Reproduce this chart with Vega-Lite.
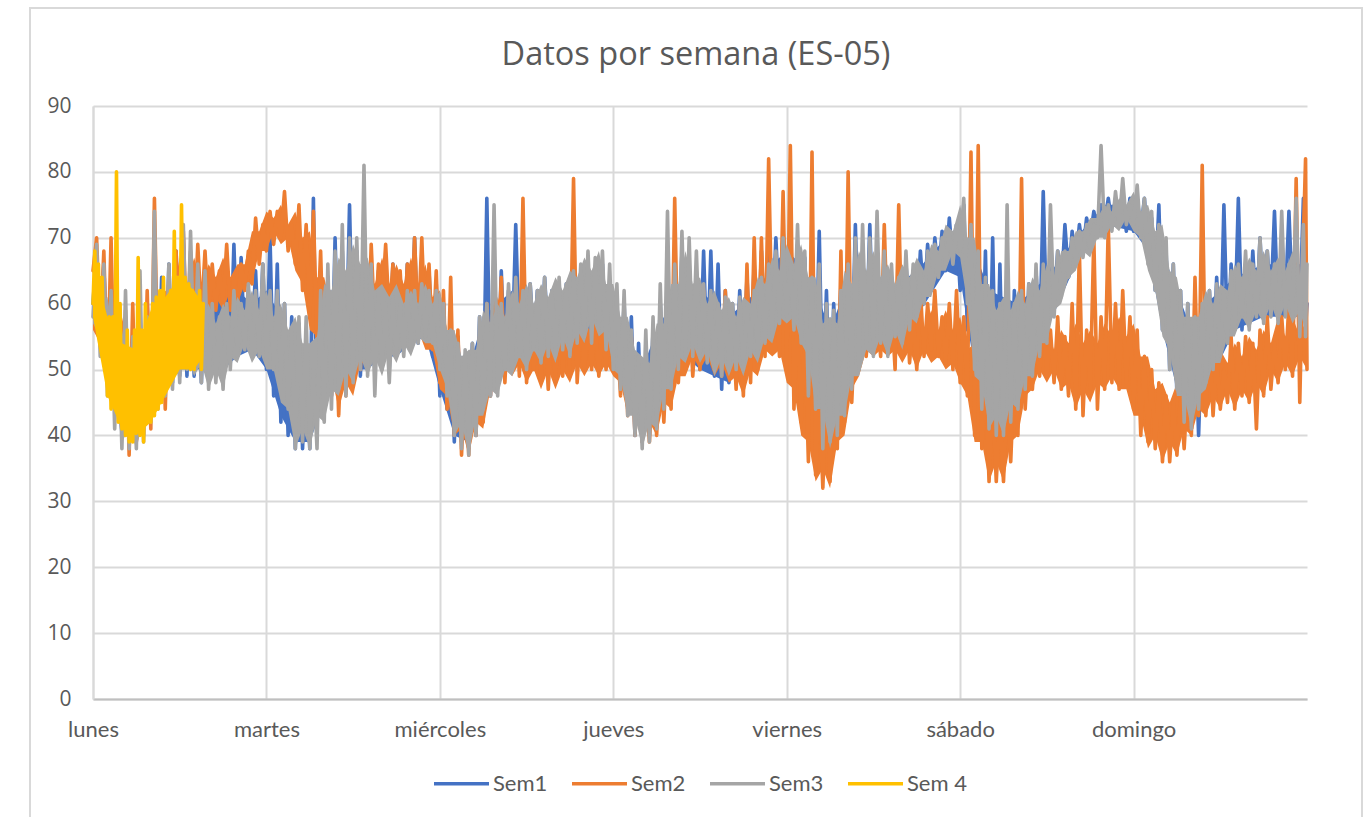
{"$schema":"https://vega.github.io/schema/vega-lite/v6.json","width":1214,"height":593,"autosize":"none","padding":{"left":93,"top":106,"right":60,"bottom":118},"background":"white",
"title":{"text":"Datos por semana (ES-05)","font":"Open Sans","fontSize":32.5,"fontWeight":"normal","color":"#595959","anchor":"middle","offset":-64,"dx":-4},
"config":{"view":{"stroke":null},"font":"Lato"},
"datasets":{"pts":[
{"t":0,"Sem1":60,"Sem2":65,"Sem3":58},{"t":0.5,"Sem1":68,"Sem2":70,"Sem3":69},{"t":1,"Sem1":54,"Sem2":55,"Sem3":52},{"t":1.5,"Sem1":66,"Sem2":68,"Sem3":66},{"t":2,"Sem1":48,"Sem2":48,"Sem3":46},{"t":2.5,"Sem1":62,"Sem2":70,"Sem3":62},{"t":3,"Sem1":44,"Sem2":44,"Sem3":41},{"t":3.5,"Sem1":60,"Sem2":60,"Sem3":58},{"t":4,"Sem1":40,"Sem2":42,"Sem3":38},{"t":4.5,"Sem1":58,"Sem2":59,"Sem3":62},{"t":5,"Sem1":39,"Sem2":37,"Sem3":38},{"t":5.5,"Sem1":54,"Sem2":60,"Sem3":55},{"t":6,"Sem1":40,"Sem2":39,"Sem3":38},{"t":6.5,"Sem1":56,"Sem2":54,"Sem3":65},{"t":7,"Sem1":42,"Sem2":40,"Sem3":39},{"t":7.5,"Sem1":60,"Sem2":62,"Sem3":58},{"t":8,"Sem1":43,"Sem2":41,"Sem3":42},{"t":8.5,"Sem1":62,"Sem2":76,"Sem3":74},{"t":9,"Sem1":46,"Sem2":48,"Sem3":44},{"t":9.5,"Sem1":64,"Sem2":62,"Sem3":62},{"t":10,"Sem1":47,"Sem2":44,"Sem3":46},{"t":10.5,"Sem1":66,"Sem2":64,"Sem3":66},{"t":11,"Sem1":48,"Sem2":50,"Sem3":47},{"t":11.5,"Sem1":68,"Sem2":68,"Sem3":64},{"t":12,"Sem1":49,"Sem2":52,"Sem3":48},{"t":12.5,"Sem1":70,"Sem2":71,"Sem3":72},{"t":13,"Sem1":49,"Sem2":54,"Sem3":50},{"t":13.5,"Sem1":66,"Sem2":68,"Sem3":71},{"t":14,"Sem1":49,"Sem2":56,"Sem3":50},{"t":14.5,"Sem1":64,"Sem2":69,"Sem3":66},{"t":15,"Sem1":48,"Sem2":58,"Sem3":48},{"t":15.5,"Sem1":66,"Sem2":68,"Sem3":65},
{"t":16,"Sem1":49,"Sem2":58,"Sem3":47},{"t":16.5,"Sem1":62,"Sem2":66,"Sem3":60},{"t":17,"Sem1":50,"Sem2":59,"Sem3":48},{"t":17.5,"Sem1":64,"Sem2":65,"Sem3":58},{"t":18,"Sem1":50,"Sem2":60,"Sem3":47},{"t":18.5,"Sem1":62,"Sem2":69,"Sem3":60},{"t":19,"Sem1":51,"Sem2":59,"Sem3":50},{"t":19.5,"Sem1":69,"Sem2":64,"Sem3":62},{"t":20,"Sem1":52,"Sem2":60,"Sem3":52},{"t":20.5,"Sem1":67,"Sem2":66,"Sem3":60},{"t":21,"Sem1":53,"Sem2":62,"Sem3":53},{"t":21.5,"Sem1":62,"Sem2":68,"Sem3":63},{"t":22,"Sem1":54,"Sem2":63,"Sem3":52},{"t":22.5,"Sem1":65,"Sem2":73,"Sem3":62},{"t":23,"Sem1":52,"Sem2":66,"Sem3":52},{"t":23.5,"Sem1":66,"Sem2":72,"Sem3":66},{"t":24,"Sem1":50,"Sem2":68,"Sem3":51},{"t":24.5,"Sem1":70,"Sem2":74,"Sem3":62},{"t":25,"Sem1":46,"Sem2":69,"Sem3":50},{"t":25.5,"Sem1":66,"Sem2":74,"Sem3":62},{"t":26,"Sem1":42,"Sem2":70,"Sem3":48},{"t":26.5,"Sem1":60,"Sem2":77,"Sem3":60},{"t":27,"Sem1":40,"Sem2":68,"Sem3":44},{"t":27.5,"Sem1":58,"Sem2":72,"Sem3":56},{"t":28,"Sem1":38,"Sem2":66,"Sem3":38},{"t":28.5,"Sem1":57,"Sem2":75,"Sem3":58},{"t":29,"Sem1":38,"Sem2":62,"Sem3":39},{"t":29.5,"Sem1":52,"Sem2":72,"Sem3":58},{"t":30,"Sem1":38,"Sem2":58,"Sem3":38},{"t":30.5,"Sem1":76,"Sem2":74,"Sem3":50},
{"t":31,"Sem1":41,"Sem2":54,"Sem3":38},{"t":31.5,"Sem1":60,"Sem2":68,"Sem3":62},{"t":32,"Sem1":44,"Sem2":48,"Sem3":42},{"t":32.5,"Sem1":64,"Sem2":63,"Sem3":66},{"t":33,"Sem1":46,"Sem2":46,"Sem3":44},{"t":33.5,"Sem1":70,"Sem2":60,"Sem3":68},{"t":34,"Sem1":49,"Sem2":43,"Sem3":47},{"t":34.5,"Sem1":68,"Sem2":58,"Sem3":72},{"t":35,"Sem1":50,"Sem2":46,"Sem3":46},{"t":35.5,"Sem1":75,"Sem2":59,"Sem3":70},{"t":36,"Sem1":50,"Sem2":48,"Sem3":48},{"t":36.5,"Sem1":68,"Sem2":62,"Sem3":70},{"t":37,"Sem1":49,"Sem2":50,"Sem3":50},{"t":37.5,"Sem1":62,"Sem2":64,"Sem3":81},{"t":38,"Sem1":50,"Sem2":52,"Sem3":49},{"t":38.5,"Sem1":64,"Sem2":69,"Sem3":66},{"t":39,"Sem1":50,"Sem2":56,"Sem3":46},{"t":39.5,"Sem1":65,"Sem2":66,"Sem3":62},{"t":40,"Sem1":52,"Sem2":60,"Sem3":50},{"t":40.5,"Sem1":63,"Sem2":69,"Sem3":60},{"t":41,"Sem1":50,"Sem2":58,"Sem3":48},{"t":41.5,"Sem1":66,"Sem2":66,"Sem3":61},{"t":42,"Sem1":52,"Sem2":56,"Sem3":52},{"t":42.5,"Sem1":64,"Sem2":65,"Sem3":60},{"t":43,"Sem1":54,"Sem2":55,"Sem3":52},{"t":43.5,"Sem1":66,"Sem2":66,"Sem3":62},{"t":44,"Sem1":53,"Sem2":56,"Sem3":53},{"t":44.5,"Sem1":70,"Sem2":70,"Sem3":62},{"t":45,"Sem1":54,"Sem2":56,"Sem3":54},{"t":45.5,"Sem1":66,"Sem2":70,"Sem3":63},
{"t":46,"Sem1":55,"Sem2":55,"Sem3":55},{"t":46.5,"Sem1":65,"Sem2":66,"Sem3":62},{"t":47,"Sem1":52,"Sem2":53,"Sem3":54},{"t":47.5,"Sem1":63,"Sem2":65,"Sem3":62},{"t":48,"Sem1":46,"Sem2":48,"Sem3":50},{"t":48.5,"Sem1":60,"Sem2":62,"Sem3":60},{"t":49,"Sem1":44,"Sem2":44,"Sem3":46},{"t":49.5,"Sem1":58,"Sem2":64,"Sem3":56},{"t":50,"Sem1":39,"Sem2":40,"Sem3":40},{"t":50.5,"Sem1":55,"Sem2":56,"Sem3":54},{"t":51,"Sem1":39,"Sem2":37,"Sem3":38},{"t":51.5,"Sem1":50,"Sem2":50,"Sem3":53},{"t":52,"Sem1":38,"Sem2":37,"Sem3":37},{"t":52.5,"Sem1":54,"Sem2":52,"Sem3":54},{"t":53,"Sem1":40,"Sem2":40,"Sem3":40},{"t":53.5,"Sem1":58,"Sem2":55,"Sem3":58},{"t":54,"Sem1":44,"Sem2":42,"Sem3":44},{"t":54.5,"Sem1":76,"Sem2":60,"Sem3":60},{"t":55,"Sem1":46,"Sem2":46,"Sem3":46},{"t":55.5,"Sem1":62,"Sem2":62,"Sem3":75},{"t":56,"Sem1":48,"Sem2":50,"Sem3":46},{"t":56.5,"Sem1":65,"Sem2":64,"Sem3":60},{"t":57,"Sem1":50,"Sem2":48,"Sem3":50},{"t":57.5,"Sem1":62,"Sem2":60,"Sem3":63},{"t":58,"Sem1":52,"Sem2":50,"Sem3":50},{"t":58.5,"Sem1":72,"Sem2":61,"Sem3":64},{"t":59,"Sem1":53,"Sem2":49,"Sem3":52},{"t":59.5,"Sem1":68,"Sem2":76,"Sem3":62},{"t":60,"Sem1":52,"Sem2":48,"Sem3":50},{"t":60.5,"Sem1":63,"Sem2":60,"Sem3":63},
{"t":61,"Sem1":54,"Sem2":50,"Sem3":53},{"t":61.5,"Sem1":62,"Sem2":56,"Sem3":62},{"t":62,"Sem1":52,"Sem2":48,"Sem3":51},{"t":62.5,"Sem1":64,"Sem2":57,"Sem3":64},{"t":63,"Sem1":54,"Sem2":47,"Sem3":52},{"t":63.5,"Sem1":62,"Sem2":58,"Sem3":62},{"t":64,"Sem1":52,"Sem2":48,"Sem3":52},{"t":64.5,"Sem1":63,"Sem2":60,"Sem3":64},{"t":65,"Sem1":53,"Sem2":49,"Sem3":53},{"t":65.5,"Sem1":63,"Sem2":56,"Sem3":63},{"t":66,"Sem1":54,"Sem2":50,"Sem3":52},{"t":66.5,"Sem1":66,"Sem2":79,"Sem3":65},{"t":67,"Sem1":54,"Sem2":48,"Sem3":54},{"t":67.5,"Sem1":64,"Sem2":58,"Sem3":66},{"t":68,"Sem1":55,"Sem2":50,"Sem3":55},{"t":68.5,"Sem1":66,"Sem2":56,"Sem3":68},{"t":69,"Sem1":54,"Sem2":50,"Sem3":54},{"t":69.5,"Sem1":64,"Sem2":57,"Sem3":67},{"t":70,"Sem1":55,"Sem2":49,"Sem3":56},{"t":70.5,"Sem1":66,"Sem2":56,"Sem3":68},{"t":71,"Sem1":54,"Sem2":50,"Sem3":53},{"t":71.5,"Sem1":62,"Sem2":56,"Sem3":66},{"t":72,"Sem1":52,"Sem2":50,"Sem3":50},{"t":72.5,"Sem1":60,"Sem2":56,"Sem3":63},{"t":73,"Sem1":48,"Sem2":46,"Sem3":47},{"t":73.5,"Sem1":60,"Sem2":58,"Sem3":62},{"t":74,"Sem1":44,"Sem2":43,"Sem3":43},{"t":74.5,"Sem1":58,"Sem2":55,"Sem3":56},{"t":75,"Sem1":40,"Sem2":40,"Sem3":40},{"t":75.5,"Sem1":54,"Sem2":51,"Sem3":52},
{"t":76,"Sem1":39,"Sem2":39,"Sem3":38},{"t":76.5,"Sem1":52,"Sem2":49,"Sem3":56},{"t":77,"Sem1":40,"Sem2":39,"Sem3":39},{"t":77.5,"Sem1":56,"Sem2":50,"Sem3":58},{"t":78,"Sem1":42,"Sem2":40,"Sem3":41},{"t":78.5,"Sem1":60,"Sem2":52,"Sem3":63},{"t":79,"Sem1":46,"Sem2":42,"Sem3":44},{"t":79.5,"Sem1":62,"Sem2":56,"Sem3":74},{"t":80,"Sem1":48,"Sem2":44,"Sem3":47},{"t":80.5,"Sem1":64,"Sem2":76,"Sem3":66},{"t":81,"Sem1":50,"Sem2":48,"Sem3":50},{"t":81.5,"Sem1":68,"Sem2":58,"Sem3":71},{"t":82,"Sem1":52,"Sem2":50,"Sem3":52},{"t":82.5,"Sem1":66,"Sem2":60,"Sem3":70},{"t":83,"Sem1":52,"Sem2":49,"Sem3":52},{"t":83.5,"Sem1":63,"Sem2":58,"Sem3":68},{"t":84,"Sem1":50,"Sem2":50,"Sem3":52},{"t":84.5,"Sem1":68,"Sem2":62,"Sem3":63},{"t":85,"Sem1":50,"Sem2":52,"Sem3":51},{"t":85.5,"Sem1":68,"Sem2":58,"Sem3":62},{"t":86,"Sem1":49,"Sem2":50,"Sem3":50},{"t":86.5,"Sem1":66,"Sem2":58,"Sem3":60},{"t":87,"Sem1":47,"Sem2":49,"Sem3":49},{"t":87.5,"Sem1":62,"Sem2":62,"Sem3":61},{"t":88,"Sem1":48,"Sem2":50,"Sem3":50},{"t":88.5,"Sem1":60,"Sem2":58,"Sem3":60},{"t":89,"Sem1":50,"Sem2":47,"Sem3":50},{"t":89.5,"Sem1":62,"Sem2":60,"Sem3":61},{"t":90,"Sem1":50,"Sem2":46,"Sem3":50},{"t":90.5,"Sem1":64,"Sem2":66,"Sem3":60},
{"t":91,"Sem1":52,"Sem2":48,"Sem3":52},{"t":91.5,"Sem1":66,"Sem2":70,"Sem3":62},{"t":92,"Sem1":53,"Sem2":50,"Sem3":52},{"t":92.5,"Sem1":68,"Sem2":70,"Sem3":64},{"t":93,"Sem1":54,"Sem2":52,"Sem3":54},{"t":93.5,"Sem1":71,"Sem2":82,"Sem3":66},{"t":94,"Sem1":56,"Sem2":54,"Sem3":55},{"t":94.5,"Sem1":70,"Sem2":62,"Sem3":68},{"t":95,"Sem1":58,"Sem2":52,"Sem3":57},{"t":95.5,"Sem1":71,"Sem2":77,"Sem3":70},{"t":96,"Sem1":59,"Sem2":50,"Sem3":58},{"t":96.5,"Sem1":71,"Sem2":84,"Sem3":66},{"t":97,"Sem1":58,"Sem2":44,"Sem3":56},{"t":97.5,"Sem1":69,"Sem2":58,"Sem3":72},{"t":98,"Sem1":54,"Sem2":42,"Sem3":54},{"t":98.5,"Sem1":67,"Sem2":56,"Sem3":68},{"t":99,"Sem1":52,"Sem2":36,"Sem3":46},{"t":99.5,"Sem1":66,"Sem2":83,"Sem3":64},{"t":100,"Sem1":47,"Sem2":34,"Sem3":44},{"t":100.5,"Sem1":71,"Sem2":46,"Sem3":66},{"t":101,"Sem1":44,"Sem2":32,"Sem3":38},{"t":101.5,"Sem1":62,"Sem2":48,"Sem3":60},{"t":102,"Sem1":42,"Sem2":33,"Sem3":39},{"t":102.5,"Sem1":60,"Sem2":50,"Sem3":59},{"t":103,"Sem1":46,"Sem2":38,"Sem3":40},{"t":103.5,"Sem1":63,"Sem2":68,"Sem3":62},{"t":104,"Sem1":48,"Sem2":42,"Sem3":43},{"t":104.5,"Sem1":69,"Sem2":80,"Sem3":66},{"t":105,"Sem1":50,"Sem2":45,"Sem3":47},{"t":105.5,"Sem1":72,"Sem2":58,"Sem3":70},
{"t":106,"Sem1":52,"Sem2":50,"Sem3":50},{"t":106.5,"Sem1":68,"Sem2":62,"Sem3":72},{"t":107,"Sem1":54,"Sem2":52,"Sem3":54},{"t":107.5,"Sem1":72,"Sem2":60,"Sem3":70},{"t":108,"Sem1":54,"Sem2":54,"Sem3":52},{"t":108.5,"Sem1":65,"Sem2":58,"Sem3":74},{"t":109,"Sem1":56,"Sem2":52,"Sem3":54},{"t":109.5,"Sem1":66,"Sem2":72,"Sem3":68},{"t":110,"Sem1":54,"Sem2":54,"Sem3":52},{"t":110.5,"Sem1":64,"Sem2":60,"Sem3":66},{"t":111,"Sem1":53,"Sem2":50,"Sem3":55},{"t":111.5,"Sem1":66,"Sem2":75,"Sem3":64},{"t":112,"Sem1":56,"Sem2":52,"Sem3":54},{"t":112.5,"Sem1":66,"Sem2":62,"Sem3":68},{"t":113,"Sem1":58,"Sem2":51,"Sem3":56},{"t":113.5,"Sem1":65,"Sem2":58,"Sem3":66},{"t":114,"Sem1":58,"Sem2":50,"Sem3":58},{"t":114.5,"Sem1":68,"Sem2":62,"Sem3":65},{"t":115,"Sem1":60,"Sem2":52,"Sem3":60},{"t":115.5,"Sem1":69,"Sem2":60,"Sem3":68},{"t":116,"Sem1":62,"Sem2":53,"Sem3":62},{"t":116.5,"Sem1":70,"Sem2":62,"Sem3":69},{"t":117,"Sem1":64,"Sem2":52,"Sem3":64},{"t":117.5,"Sem1":71,"Sem2":58,"Sem3":70},{"t":118,"Sem1":65,"Sem2":51,"Sem3":66},{"t":118.5,"Sem1":73,"Sem2":60,"Sem3":71},{"t":119,"Sem1":66,"Sem2":50,"Sem3":66},{"t":119.5,"Sem1":72,"Sem2":62,"Sem3":72},{"t":120,"Sem1":62,"Sem2":48,"Sem3":68},{"t":120.5,"Sem1":75,"Sem2":58,"Sem3":76},
{"t":121,"Sem1":56,"Sem2":46,"Sem3":60},{"t":121.5,"Sem1":72,"Sem2":83,"Sem3":72},{"t":122,"Sem1":50,"Sem2":40,"Sem3":50},{"t":122.5,"Sem1":73,"Sem2":84,"Sem3":68},{"t":123,"Sem1":46,"Sem2":38,"Sem3":44},{"t":123.5,"Sem1":68,"Sem2":50,"Sem3":64},{"t":124,"Sem1":42,"Sem2":33,"Sem3":41},{"t":124.5,"Sem1":70,"Sem2":46,"Sem3":62},{"t":125,"Sem1":41,"Sem2":33,"Sem3":40},{"t":125.5,"Sem1":66,"Sem2":44,"Sem3":60},{"t":126,"Sem1":42,"Sem2":33,"Sem3":40},{"t":126.5,"Sem1":64,"Sem2":46,"Sem3":75},{"t":127,"Sem1":43,"Sem2":36,"Sem3":42},{"t":127.5,"Sem1":62,"Sem2":50,"Sem3":60},{"t":128,"Sem1":45,"Sem2":40,"Sem3":44},{"t":128.5,"Sem1":60,"Sem2":79,"Sem3":62},{"t":129,"Sem1":48,"Sem2":44,"Sem3":47},{"t":129.5,"Sem1":63,"Sem2":54,"Sem3":63},{"t":130,"Sem1":50,"Sem2":47,"Sem3":49},{"t":130.5,"Sem1":65,"Sem2":56,"Sem3":66},{"t":131,"Sem1":53,"Sem2":49,"Sem3":52},{"t":131.5,"Sem1":77,"Sem2":58,"Sem3":66},{"t":132,"Sem1":56,"Sem2":49,"Sem3":54},{"t":132.5,"Sem1":66,"Sem2":56,"Sem3":75},{"t":133,"Sem1":60,"Sem2":48,"Sem3":58},{"t":133.5,"Sem1":68,"Sem2":58,"Sem3":68},{"t":134,"Sem1":62,"Sem2":47,"Sem3":61},{"t":134.5,"Sem1":72,"Sem2":55,"Sem3":68},{"t":135,"Sem1":64,"Sem2":46,"Sem3":64},{"t":135.5,"Sem1":71,"Sem2":60,"Sem3":70},
{"t":136,"Sem1":66,"Sem2":44,"Sem3":66},{"t":136.5,"Sem1":72,"Sem2":68,"Sem3":71},{"t":137,"Sem1":68,"Sem2":43,"Sem3":67},{"t":137.5,"Sem1":73,"Sem2":56,"Sem3":72},{"t":138,"Sem1":70,"Sem2":47,"Sem3":68},{"t":138.5,"Sem1":74,"Sem2":70,"Sem3":72},{"t":139,"Sem1":71,"Sem2":44,"Sem3":70},{"t":139.5,"Sem1":75,"Sem2":58,"Sem3":84},{"t":140,"Sem1":72,"Sem2":47,"Sem3":70},{"t":140.5,"Sem1":76,"Sem2":72,"Sem3":75},{"t":141,"Sem1":72,"Sem2":48,"Sem3":71},{"t":141.5,"Sem1":76,"Sem2":60,"Sem3":77},{"t":142,"Sem1":72,"Sem2":47,"Sem3":72},{"t":142.5,"Sem1":76,"Sem2":62,"Sem3":79},{"t":143,"Sem1":71,"Sem2":48,"Sem3":72},{"t":143.5,"Sem1":76,"Sem2":58,"Sem3":75},{"t":144,"Sem1":71,"Sem2":44,"Sem3":72},{"t":144.5,"Sem1":76,"Sem2":56,"Sem3":78},{"t":145,"Sem1":71,"Sem2":40,"Sem3":70},{"t":145.5,"Sem1":76,"Sem2":52,"Sem3":76},{"t":146,"Sem1":68,"Sem2":39,"Sem3":66},{"t":146.5,"Sem1":73,"Sem2":50,"Sem3":74},{"t":147,"Sem1":62,"Sem2":38,"Sem3":62},{"t":147.5,"Sem1":75,"Sem2":48,"Sem3":72},{"t":148,"Sem1":56,"Sem2":36,"Sem3":56},{"t":148.5,"Sem1":68,"Sem2":46,"Sem3":70},{"t":149,"Sem1":50,"Sem2":36,"Sem3":50},{"t":149.5,"Sem1":66,"Sem2":45,"Sem3":66},{"t":150,"Sem1":46,"Sem2":37,"Sem3":47},{"t":150.5,"Sem1":62,"Sem2":46,"Sem3":62},
{"t":151,"Sem1":44,"Sem2":38,"Sem3":42},{"t":151.5,"Sem1":60,"Sem2":48,"Sem3":60},{"t":152,"Sem1":41,"Sem2":40,"Sem3":41},{"t":152.5,"Sem1":57,"Sem2":64,"Sem3":58},{"t":153,"Sem1":40,"Sem2":43,"Sem3":44},{"t":153.5,"Sem1":58,"Sem2":81,"Sem3":60},{"t":154,"Sem1":46,"Sem2":43,"Sem3":48},{"t":154.5,"Sem1":62,"Sem2":54,"Sem3":62},{"t":155,"Sem1":50,"Sem2":43,"Sem3":50},{"t":155.5,"Sem1":64,"Sem2":52,"Sem3":63},{"t":156,"Sem1":52,"Sem2":44,"Sem3":52},{"t":156.5,"Sem1":75,"Sem2":50,"Sem3":62},{"t":157,"Sem1":54,"Sem2":45,"Sem3":54},{"t":157.5,"Sem1":66,"Sem2":55,"Sem3":65},{"t":158,"Sem1":56,"Sem2":44,"Sem3":56},{"t":158.5,"Sem1":76,"Sem2":54,"Sem3":66},{"t":159,"Sem1":56,"Sem2":46,"Sem3":58},{"t":159.5,"Sem1":66,"Sem2":55,"Sem3":68},{"t":160,"Sem1":58,"Sem2":45,"Sem3":56},{"t":160.5,"Sem1":68,"Sem2":54,"Sem3":66},{"t":161,"Sem1":58,"Sem2":41,"Sem3":58},{"t":161.5,"Sem1":70,"Sem2":56,"Sem3":70},{"t":162,"Sem1":58,"Sem2":46,"Sem3":57},{"t":162.5,"Sem1":68,"Sem2":58,"Sem3":68},{"t":163,"Sem1":60,"Sem2":47,"Sem3":58},{"t":163.5,"Sem1":74,"Sem2":54,"Sem3":66},{"t":164,"Sem1":58,"Sem2":48,"Sem3":57},{"t":164.5,"Sem1":70,"Sem2":58,"Sem3":74},{"t":165,"Sem1":60,"Sem2":50,"Sem3":58},{"t":165.5,"Sem1":74,"Sem2":60,"Sem3":66},
{"t":166,"Sem1":60,"Sem2":49,"Sem3":58},{"t":166.5,"Sem1":69,"Sem2":79,"Sem3":76},{"t":167,"Sem1":58,"Sem2":45,"Sem3":55},{"t":167.5,"Sem1":76,"Sem2":70,"Sem3":72},{"t":167.8,"Sem1":56,"Sem2":82,"Sem3":55},{"t":168,"Sem1":60,"Sem2":50,"Sem3":66},
{"t":0,"Sem 4":60},{"t":0.25,"Sem 4":68},{"t":0.5,"Sem 4":58},{"t":0.75,"Sem 4":66},{"t":1,"Sem 4":54},{"t":1.25,"Sem 4":64},{"t":1.5,"Sem 4":54},{"t":1.75,"Sem 4":58},{"t":2,"Sem 4":46},{"t":2.25,"Sem 4":58},{"t":2.5,"Sem 4":44},{"t":2.75,"Sem 4":58},{"t":3,"Sem 4":45},{"t":3.25,"Sem 4":80},{"t":3.5,"Sem 4":42},{"t":3.75,"Sem 4":60},{"t":4,"Sem 4":41},{"t":4.25,"Sem 4":52},{"t":4.5,"Sem 4":40},{"t":4.75,"Sem 4":56},{"t":5,"Sem 4":39},{"t":5.25,"Sem 4":48},{"t":5.5,"Sem 4":39},{"t":5.75,"Sem 4":56},{"t":6,"Sem 4":41},{"t":6.25,"Sem 4":67},{"t":6.5,"Sem 4":40},{"t":6.75,"Sem 4":56},{"t":7,"Sem 4":39},{"t":7.25,"Sem 4":60},{"t":7.5,"Sem 4":42},{"t":7.75,"Sem 4":57},{"t":8,"Sem 4":42},{"t":8.25,"Sem 4":60},{"t":8.5,"Sem 4":43},{"t":8.75,"Sem 4":61},{"t":9,"Sem 4":44},{"t":9.25,"Sem 4":62},{"t":9.5,"Sem 4":45},{"t":9.75,"Sem 4":64},{"t":10,"Sem 4":47},{"t":10.25,"Sem 4":60},{"t":10.5,"Sem 4":48},{"t":10.75,"Sem 4":62},{"t":11,"Sem 4":49},{"t":11.25,"Sem 4":71},{"t":11.5,"Sem 4":50},{"t":11.75,"Sem 4":64},{"t":12,"Sem 4":51},{"t":12.25,"Sem 4":75},{"t":12.5,"Sem 4":52},{"t":12.75,"Sem 4":64},{"t":13,"Sem 4":52},{"t":13.25,"Sem 4":63},{"t":13.5,"Sem 4":50},{"t":13.75,"Sem 4":62},{"t":14,"Sem 4":50},{"t":14.25,"Sem 4":61},{"t":14.5,"Sem 4":53},{"t":14.75,"Sem 4":62},{"t":15,"Sem 4":50},{"t":15.25,"Sem 4":60}
],
"b1":[{"t":0,"lo":58,"hi":66},{"t":2,"lo":50,"hi":60},{"t":4,"lo":42,"hi":54},{"t":6,"lo":40,"hi":52},{"t":8,"lo":44,"hi":56},{"t":10,"lo":48,"hi":60},{"t":12,"lo":50,"hi":60},{"t":14,"lo":50,"hi":60},{"t":16,"lo":50,"hi":58},{"t":18,"lo":50,"hi":60},{"t":20,"lo":52,"hi":62},{"t":22,"lo":53,"hi":60},{"t":24,"lo":50,"hi":62},{"t":26,"lo":43,"hi":58},{"t":28,"lo":39,"hi":52},{"t":30,"lo":39,"hi":52},{"t":32,"lo":45,"hi":60},{"t":34,"lo":50,"hi":64},{"t":36,"lo":50,"hi":64},{"t":38,"lo":50,"hi":60},{"t":40,"lo":52,"hi":60},{"t":42,"lo":52,"hi":62},{"t":44,"lo":54,"hi":62},{"t":46,"lo":55,"hi":62},{"t":48,"lo":47,"hi":58},{"t":50,"lo":40,"hi":54},{"t":52,"lo":39,"hi":50},{"t":54,"lo":45,"hi":58},{"t":56,"lo":48,"hi":60},{"t":58,"lo":52,"hi":62},{"t":60,"lo":52,"hi":60},{"t":64,"lo":52,"hi":60},{"t":68,"lo":55,"hi":62},{"t":72,"lo":52,"hi":58},{"t":74,"lo":45,"hi":55},{"t":76,"lo":40,"hi":50},{"t":78,"lo":43,"hi":56},{"t":80,"lo":48,"hi":60},{"t":82,"lo":52,"hi":62},{"t":84,"lo":50,"hi":62},{"t":86,"lo":49,"hi":60},{"t":88,"lo":48,"hi":58},{"t":92,"lo":53,"hi":62},{"t":94,"lo":56,"hi":66},{"t":96,"lo":58,"hi":68},{"t":98,"lo":54,"hi":66},{"t":100,"lo":47,"hi":62},{"t":102,"lo":42,"hi":56},{"t":104,"lo":48,"hi":62},{"t":106,"lo":52,"hi":64},{"t":110,"lo":54,"hi":62},{"t":114,"lo":58,"hi":65},{"t":118,"lo":65,"hi":70},{"t":120,"lo":64,"hi":72},{"t":122,"lo":50,"hi":68},{"t":124,"lo":43,"hi":62},{"t":128,"lo":46,"hi":60},{"t":132,"lo":56,"hi":64},{"t":136,"lo":66,"hi":70},{"t":140,"lo":72,"hi":75},{"t":144,"lo":71,"hi":75},{"t":146,"lo":68,"hi":73},{"t":148,"lo":56,"hi":68},{"t":150,"lo":47,"hi":62},{"t":152,"lo":41,"hi":56},{"t":154,"lo":47,"hi":60},{"t":158,"lo":56,"hi":64},{"t":162,"lo":58,"hi":66},{"t":168,"lo":58,"hi":66}],
"b2":[{"t":0,"lo":56,"hi":66},{"t":1,"lo":54,"hi":61},{"t":2,"lo":48,"hi":60},{"t":3,"lo":46,"hi":55},{"t":4,"lo":40,"hi":58},{"t":5,"lo":42,"hi":53},{"t":6,"lo":38,"hi":54},{"t":7,"lo":43,"hi":52},{"t":8,"lo":42,"hi":56},{"t":9,"lo":47,"hi":56},{"t":10,"lo":47,"hi":62},{"t":11,"lo":52,"hi":61},{"t":12,"lo":53,"hi":67},{"t":13,"lo":57,"hi":63},{"t":14,"lo":56,"hi":67},{"t":15,"lo":60,"hi":63},{"t":16,"lo":58,"hi":66},{"t":17,"lo":61,"hi":64},{"t":18,"lo":59,"hi":67},{"t":19,"lo":62,"hi":64},{"t":20,"lo":60,"hi":66},{"t":21,"lo":63,"hi":66},{"t":22,"lo":63,"hi":71},{"t":23,"lo":68,"hi":71},{"t":24,"lo":68,"hi":74},{"t":25,"lo":71,"hi":73},{"t":26,"lo":69,"hi":75},{"t":27,"lo":70,"hi":72},{"t":28,"lo":65,"hi":74},{"t":29,"lo":63,"hi":70},{"t":30,"lo":56,"hi":71},{"t":31,"lo":55,"hi":64},{"t":32,"lo":48,"hi":64},{"t":33,"lo":49,"hi":59},{"t":34,"lo":44,"hi":60},{"t":35,"lo":48,"hi":58},{"t":36,"lo":46,"hi":62},{"t":37,"lo":51,"hi":61},{"t":38,"lo":51,"hi":65},{"t":39,"lo":56,"hi":63},{"t":40,"lo":55,"hi":67},{"t":41,"lo":58,"hi":63},{"t":42,"lo":55,"hi":66},{"t":43,"lo":57,"hi":63},{"t":44,"lo":54,"hi":67},{"t":45,"lo":56,"hi":63},{"t":46,"lo":53,"hi":66},{"t":47,"lo":53,"hi":61},{"t":48,"lo":47,"hi":62},{"t":49,"lo":46,"hi":56},{"t":50,"lo":40,"hi":56},{"t":51,"lo":41,"hi":51},{"t":52,"lo":37,"hi":51},{"t":53,"lo":42,"hi":50},{"t":54,"lo":41,"hi":56},{"t":55,"lo":47,"hi":56},{"t":56,"lo":47,"hi":61},{"t":57,"lo":51,"hi":58},{"t":58,"lo":49,"hi":60},{"t":59,"lo":51,"hi":56},{"t":60,"lo":48,"hi":58},{"t":61,"lo":50,"hi":55},{"t":62,"lo":47,"hi":58},{"t":63,"lo":50,"hi":55},{"t":64,"lo":47,"hi":58},{"t":65,"lo":50,"hi":55},{"t":66,"lo":48,"hi":57},{"t":67,"lo":51,"hi":54},{"t":68,"lo":49,"hi":57},{"t":69,"lo":51,"hi":55},{"t":70,"lo":49,"hi":57},{"t":71,"lo":51,"hi":54},{"t":72,"lo":49,"hi":57},{"t":73,"lo":48,"hi":54},{"t":74,"lo":43,"hi":56},{"t":75,"lo":44,"hi":50},{"t":76,"lo":39,"hi":50},{"t":77,"lo":42,"hi":48},{"t":78,"lo":40,"hi":52},{"t":79,"lo":45,"hi":51},{"t":80,"lo":44,"hi":56},{"t":81,"lo":49,"hi":55},{"t":82,"lo":49,"hi":60},{"t":83,"lo":52,"hi":57},{"t":84,"lo":50,"hi":60},{"t":85,"lo":52,"hi":57},{"t":86,"lo":49,"hi":59},{"t":87,"lo":51,"hi":56},{"t":88,"lo":48,"hi":58},{"t":89,"lo":49,"hi":55},{"t":90,"lo":46,"hi":58},{"t":91,"lo":50,"hi":56},{"t":92,"lo":49,"hi":60},{"t":93,"lo":53,"hi":58},{"t":94,"lo":52,"hi":62},{"t":95,"lo":53,"hi":59},{"t":96,"lo":48,"hi":62},{"t":97,"lo":47,"hi":57},{"t":98,"lo":40,"hi":58},{"t":99,"lo":39,"hi":51},{"t":100,"lo":33,"hi":50},{"t":101,"lo":35,"hi":46},{"t":102,"lo":32,"hi":48},{"t":103,"lo":39,"hi":49},{"t":104,"lo":40,"hi":55},{"t":105,"lo":47,"hi":55},{"t":106,"lo":49,"hi":60},{"t":107,"lo":53,"hi":57},{"t":108,"lo":52,"hi":60},{"t":109,"lo":53,"hi":57},{"t":110,"lo":52,"hi":60},{"t":111,"lo":53,"hi":57},{"t":112,"lo":51,"hi":60},{"t":113,"lo":53,"hi":56},{"t":114,"lo":50,"hi":59},{"t":115,"lo":53,"hi":56},{"t":116,"lo":51,"hi":59},{"t":117,"lo":52,"hi":56},{"t":118,"lo":50,"hi":59},{"t":119,"lo":51,"hi":56},{"t":120,"lo":48,"hi":58},{"t":121,"lo":46,"hi":53},{"t":122,"lo":39,"hi":54},{"t":123,"lo":39,"hi":48},{"t":124,"lo":33,"hi":48},{"t":125,"lo":36,"hi":45},{"t":126,"lo":33,"hi":48},{"t":127,"lo":39,"hi":47},{"t":128,"lo":40,"hi":52},{"t":129,"lo":46,"hi":52},{"t":130,"lo":47,"hi":56},{"t":131,"lo":50,"hi":54},{"t":132,"lo":48,"hi":56},{"t":133,"lo":50,"hi":53},{"t":134,"lo":47,"hi":56},{"t":135,"lo":48,"hi":54},{"t":136,"lo":44,"hi":57},{"t":137,"lo":47,"hi":54},{"t":138,"lo":45,"hi":56},{"t":139,"lo":48,"hi":54},{"t":140,"lo":47,"hi":57},{"t":141,"lo":49,"hi":55},{"t":142,"lo":47,"hi":58},{"t":143,"lo":47,"hi":55},{"t":144,"lo":43,"hi":57},{"t":145,"lo":43,"hi":52},{"t":146,"lo":38,"hi":52},{"t":147,"lo":40,"hi":47},{"t":148,"lo":36,"hi":48},{"t":149,"lo":39,"hi":45},{"t":150,"lo":37,"hi":48},{"t":151,"lo":41,"hi":46},{"t":152,"lo":40,"hi":50},{"t":153,"lo":44,"hi":48},{"t":154,"lo":43,"hi":52},{"t":155,"lo":46,"hi":50},{"t":156,"lo":44,"hi":53},{"t":157,"lo":47,"hi":51},{"t":158,"lo":44,"hi":54},{"t":159,"lo":47,"hi":52},{"t":160,"lo":45,"hi":55},{"t":161,"lo":48,"hi":53},{"t":162,"lo":46,"hi":56},{"t":163,"lo":50,"hi":54},{"t":164,"lo":48,"hi":58},{"t":165,"lo":51,"hi":55},{"t":166,"lo":49,"hi":58},{"t":167,"lo":52,"hi":55},{"t":168,"lo":50,"hi":58}],
"b3":[{"t":0,"lo":57,"hi":67},{"t":1,"lo":55,"hi":60},{"t":2,"lo":47,"hi":61},{"t":3,"lo":46,"hi":54},{"t":4,"lo":39,"hi":56},{"t":5,"lo":41,"hi":51},{"t":6,"lo":38,"hi":54},{"t":7,"lo":43,"hi":53},{"t":8,"lo":42,"hi":58},{"t":9,"lo":47,"hi":56},{"t":10,"lo":46,"hi":61},{"t":11,"lo":50,"hi":59},{"t":12,"lo":49,"hi":63},{"t":13,"lo":52,"hi":59},{"t":14,"lo":49,"hi":62},{"t":15,"lo":51,"hi":57},{"t":16,"lo":47,"hi":60},{"t":17,"lo":50,"hi":57},{"t":18,"lo":47,"hi":60},{"t":19,"lo":52,"hi":58},{"t":20,"lo":51,"hi":61},{"t":21,"lo":54,"hi":59},{"t":22,"lo":51,"hi":62},{"t":23,"lo":53,"hi":59},{"t":24,"lo":50,"hi":62},{"t":25,"lo":50,"hi":58},{"t":26,"lo":45,"hi":60},{"t":27,"lo":44,"hi":56},{"t":28,"lo":38,"hi":58},{"t":29,"lo":41,"hi":54},{"t":30,"lo":38,"hi":54},{"t":31,"lo":43,"hi":55},{"t":32,"lo":42,"hi":63},{"t":33,"lo":47,"hi":62},{"t":34,"lo":46,"hi":67},{"t":35,"lo":50,"hi":65},{"t":36,"lo":48,"hi":69},{"t":37,"lo":52,"hi":66},{"t":38,"lo":49,"hi":67},{"t":39,"lo":52,"hi":62},{"t":40,"lo":49,"hi":63},{"t":41,"lo":53,"hi":61},{"t":42,"lo":51,"hi":63},{"t":43,"lo":54,"hi":60},{"t":44,"lo":52,"hi":62},{"t":45,"lo":55,"hi":60},{"t":46,"lo":54,"hi":63},{"t":47,"lo":54,"hi":60},{"t":48,"lo":50,"hi":62},{"t":49,"lo":47,"hi":56},{"t":50,"lo":40,"hi":56},{"t":51,"lo":42,"hi":52},{"t":52,"lo":37,"hi":53},{"t":53,"lo":43,"hi":53},{"t":54,"lo":43,"hi":59},{"t":55,"lo":47,"hi":57},{"t":56,"lo":46,"hi":60},{"t":57,"lo":50,"hi":58},{"t":58,"lo":49,"hi":62},{"t":59,"lo":52,"hi":60},{"t":60,"lo":50,"hi":63},{"t":61,"lo":53,"hi":60},{"t":62,"lo":51,"hi":63},{"t":63,"lo":54,"hi":61},{"t":64,"lo":51,"hi":64},{"t":65,"lo":55,"hi":62},{"t":66,"lo":52,"hi":65},{"t":67,"lo":56,"hi":64},{"t":68,"lo":54,"hi":67},{"t":69,"lo":58,"hi":65},{"t":70,"lo":55,"hi":68},{"t":71,"lo":56,"hi":63},{"t":72,"lo":50,"hi":63},{"t":73,"lo":49,"hi":58},{"t":74,"lo":43,"hi":58},{"t":75,"lo":43,"hi":53},{"t":76,"lo":38,"hi":52},{"t":77,"lo":42,"hi":51},{"t":78,"lo":41,"hi":57},{"t":79,"lo":47,"hi":57},{"t":80,"lo":47,"hi":63},{"t":81,"lo":52,"hi":63},{"t":82,"lo":51,"hi":68},{"t":83,"lo":54,"hi":63},{"t":84,"lo":51,"hi":64},{"t":85,"lo":53,"hi":60},{"t":86,"lo":49,"hi":62},{"t":87,"lo":52,"hi":59},{"t":88,"lo":49,"hi":61},{"t":89,"lo":52,"hi":58},{"t":90,"lo":49,"hi":61},{"t":91,"lo":53,"hi":60},{"t":92,"lo":51,"hi":64},{"t":93,"lo":55,"hi":63},{"t":94,"lo":54,"hi":67},{"t":95,"lo":58,"hi":65},{"t":96,"lo":57,"hi":69},{"t":97,"lo":58,"hi":66},{"t":98,"lo":54,"hi":69},{"t":99,"lo":52,"hi":64},{"t":100,"lo":44,"hi":64},{"t":101,"lo":44,"hi":57},{"t":102,"lo":38,"hi":58},{"t":103,"lo":43,"hi":57},{"t":104,"lo":43,"hi":65},{"t":105,"lo":49,"hi":63},{"t":106,"lo":49,"hi":68},{"t":107,"lo":53,"hi":65},{"t":108,"lo":52,"hi":68},{"t":109,"lo":55,"hi":64},{"t":110,"lo":52,"hi":66},{"t":111,"lo":56,"hi":63},{"t":112,"lo":53,"hi":66},{"t":113,"lo":58,"hi":64},{"t":114,"lo":57,"hi":67},{"t":115,"lo":61,"hi":65},{"t":116,"lo":61,"hi":69},{"t":117,"lo":65,"hi":68},{"t":118,"lo":65,"hi":72},{"t":119,"lo":68,"hi":71},{"t":120,"lo":67,"hi":75},{"t":121,"lo":60,"hi":70},{"t":122,"lo":49,"hi":70},{"t":123,"lo":48,"hi":63},{"t":124,"lo":41,"hi":63},{"t":125,"lo":43,"hi":59},{"t":126,"lo":40,"hi":61},{"t":127,"lo":45,"hi":59},{"t":128,"lo":44,"hi":62},{"t":129,"lo":49,"hi":60},{"t":130,"lo":49,"hi":64},{"t":131,"lo":54,"hi":62},{"t":132,"lo":54,"hi":66},{"t":133,"lo":59,"hi":64},{"t":134,"lo":60,"hi":68},{"t":135,"lo":64,"hi":68},{"t":136,"lo":65,"hi":71},{"t":137,"lo":68,"hi":71},{"t":138,"lo":67,"hi":73},{"t":139,"lo":70,"hi":73},{"t":140,"lo":70,"hi":75},{"t":141,"lo":72,"hi":74},{"t":142,"lo":71,"hi":76},{"t":143,"lo":73,"hi":75},{"t":144,"lo":71,"hi":77},{"t":145,"lo":70,"hi":74},{"t":146,"lo":65,"hi":75},{"t":147,"lo":62,"hi":71},{"t":148,"lo":55,"hi":72},{"t":149,"lo":53,"hi":65},{"t":150,"lo":46,"hi":64},{"t":151,"lo":46,"hi":58},{"t":152,"lo":41,"hi":58},{"t":153,"lo":46,"hi":58},{"t":154,"lo":47,"hi":62},{"t":155,"lo":51,"hi":60},{"t":156,"lo":51,"hi":63},{"t":157,"lo":55,"hi":62},{"t":158,"lo":55,"hi":66},{"t":159,"lo":58,"hi":64},{"t":160,"lo":56,"hi":67},{"t":161,"lo":59,"hi":65},{"t":162,"lo":57,"hi":68},{"t":163,"lo":60,"hi":65},{"t":164,"lo":57,"hi":67},{"t":165,"lo":60,"hi":65},{"t":166,"lo":57,"hi":68},{"t":167,"lo":59,"hi":64},{"t":168,"lo":55,"hi":66}],
"b4":[{"t":0,"lo":58,"hi":66},{"t":2,"lo":46,"hi":58},{"t":4,"lo":41,"hi":54},{"t":6,"lo":40,"hi":53},{"t":8,"lo":42,"hi":59},{"t":10,"lo":46,"hi":61},{"t":12,"lo":50,"hi":64},{"t":14,"lo":50,"hi":62},{"t":15.25,"lo":52,"hi":60}],
"frame":[{"caja":"marco"}]},
"encoding":{
"x":{"field":"t","type":"quantitative","scale":{"domain":[0,168],"nice":false,"zero":false},"axis":{"title":null,"values":[0,24,48,72,96,120,144],"labelExpr":"['lunes','martes','miércoles','jueves','viernes','sábado','domingo'][datum.value/24]","labelFont":"Lato","labelFontSize":22,"labelColor":"#595959","labelPadding":20,"ticks":false,"grid":true,"gridColor":"#d9d9d9","gridWidth":2,"domainColor":"#bfbfbf","domainWidth":2,"labelAlign":"center","labelBound":false,"labelFlush":false,"labelOverlap":false}},
"y":{"field":"v","type":"quantitative","scale":{"domain":[0,90],"nice":false},"axis":{"title":null,"values":[0,10,20,30,40,50,60,70,80,90],"labelFont":"Open Sans","labelFontSize":21,"labelColor":"#595959","labelPadding":22,"ticks":false,"grid":true,"gridColor":"#d9d9d9","gridWidth":2,"domainColor":"#d9d9d9","domainWidth":2}},
"color":{"field":"serie","type":"nominal","scale":{"domain":["Sem1","Sem2","Sem3","Sem 4"],"range":["#4472c4","#ed7d31","#a5a5a5","#ffc000"]},"legend":{"title":null,"orient":"none","legendX":339,"legendY":648,"direction":"horizontal","columns":4,"symbolType":"stroke","symbolSize":3025,"symbolStrokeWidth":3.6,"labelFont":"Lato","labelFontSize":22,"labelColor":"#595959","labelOffset":2,"columnPadding":16}}
},
"layer":[
{"data":{"name":"frame"},"mark":{"type":"rect","fill":"transparent","stroke":"#d9d9d9","strokeWidth":2,"clip":false},"encoding":{"x":{"value":-63},"x2":{"value":1269},"y":{"value":-98},"y2":{"value":730},"color":null}},
{"data":{"name":"b1"},"mark":{"type":"area","color":"#4472c4"},"encoding":{"y":{"field":"lo","type":"quantitative"},"y2":{"field":"hi"},"color":null}},
{"data":{"name":"pts"},"transform":[{"fold":["Sem1"],"as":["serie","v"]},{"filter":"isValid(datum.v)"}],"mark":{"type":"line","strokeWidth":3.6,"strokeCap":"round","strokeJoin":"round"}},
{"data":{"name":"b2"},"mark":{"type":"area","color":"#ed7d31"},"encoding":{"y":{"field":"lo","type":"quantitative"},"y2":{"field":"hi"},"color":null}},
{"data":{"name":"pts"},"transform":[{"fold":["Sem2"],"as":["serie","v"]},{"filter":"isValid(datum.v)"}],"mark":{"type":"line","strokeWidth":3.6,"strokeCap":"round","strokeJoin":"round"}},
{"data":{"name":"b3"},"mark":{"type":"area","color":"#a5a5a5"},"encoding":{"y":{"field":"lo","type":"quantitative"},"y2":{"field":"hi"},"color":null}},
{"data":{"name":"pts"},"transform":[{"fold":["Sem3"],"as":["serie","v"]},{"filter":"isValid(datum.v)"}],"mark":{"type":"line","strokeWidth":3.6,"strokeCap":"round","strokeJoin":"round"}},
{"data":{"name":"b4"},"mark":{"type":"area","color":"#ffc000"},"encoding":{"y":{"field":"lo","type":"quantitative"},"y2":{"field":"hi"},"color":null}},
{"data":{"name":"pts"},"transform":[{"fold":["Sem 4"],"as":["serie","v"]},{"filter":"isValid(datum.v)"}],"mark":{"type":"line","strokeWidth":3.6,"strokeCap":"round","strokeJoin":"round"}}
]}
